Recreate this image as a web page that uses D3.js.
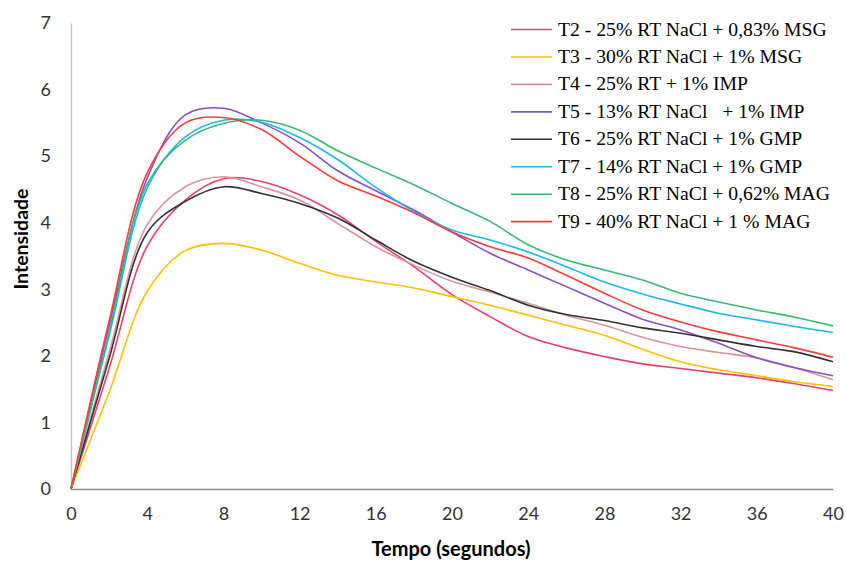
<!DOCTYPE html>
<html>
<head>
<meta charset="utf-8">
<script src="https://cdn.jsdelivr.net/npm/d3@7"></script>
<style>
html,body{margin:0;padding:0;background:#fff;}
svg{display:block;}
</style>
</head>
<body>
<svg id="chart" width="846" height="563"></svg>
<script>
const times = [0,2,4,6,8,10,12,14,16,18,20,22,24,26,28,30,32,34,36,38,40];
const xTicks = [0,4,8,12,16,20,24,28,32,36,40];
const yTicks = [0,1,2,3,4,5,6,7];

const seriesNames = [
  "T2 - 25% RT NaCl + 0,83% MSG",
  "T3 - 30% RT NaCl + 1% MSG",
  "T4 - 25% RT + 1% IMP",
  "T5 - 13% RT NaCl   + 1% IMP",
  "T6 - 25% RT NaCl + 1% GMP",
  "T7 - 14% RT NaCl + 1% GMP",
  "T8 - 25% RT NaCl + 0,62% MAG",
  "T9 - 40% RT NaCl + 1 % MAG"
];
const seriesColors = ["#E8416E","#FFC000","#D99694","#8A4FC0","#333333","#1CB8F0","#3DB873","#FF3B3B"];

const T2 = [0,1.81,3.65,4.34,4.66,4.62,4.42,4.12,3.72,3.34,2.92,2.59,2.29,2.12,1.99,1.88,1.81,1.74,1.67,1.58,1.48];
const T3 = [0,1.45,2.97,3.58,3.69,3.59,3.39,3.21,3.11,3.02,2.89,2.76,2.61,2.46,2.31,2.10,1.91,1.79,1.70,1.61,1.54];
const T4 = [0,2.05,3.97,4.54,4.69,4.54,4.34,3.99,3.64,3.36,3.12,2.96,2.79,2.61,2.46,2.28,2.14,2.05,1.97,1.82,1.64];
const T5 = [0,2.45,4.67,5.62,5.72,5.50,5.20,4.78,4.48,4.19,3.86,3.54,3.29,3.04,2.79,2.55,2.39,2.19,1.97,1.82,1.70];
const T6 = [0,1.96,3.85,4.32,4.54,4.44,4.29,4.07,3.74,3.42,3.18,2.98,2.76,2.62,2.53,2.42,2.34,2.24,2.14,2.06,1.91];
const T7 = [0,2.30,4.52,5.29,5.54,5.51,5.28,4.95,4.53,4.17,3.89,3.74,3.56,3.34,3.11,2.93,2.78,2.64,2.54,2.44,2.35];
const T8 = [0,2.35,4.58,5.24,5.49,5.54,5.39,5.08,4.82,4.57,4.29,4.02,3.67,3.44,3.29,3.14,2.94,2.81,2.69,2.58,2.45];
const T9 = [0,2.52,4.75,5.50,5.58,5.40,5.00,4.63,4.40,4.15,3.86,3.64,3.47,3.21,2.94,2.69,2.51,2.36,2.24,2.12,1.98];

const seriesValues = [T2,T3,T4,T5,T6,T7,T8,T9];

const svg = d3.select("#chart");
const x = d3.scaleLinear().domain([0,40]).range([71,833]);
const y = d3.scaleLinear().domain([0,7]).range([489,23]);

const tickFont = "Lato, 'Open Sans', sans-serif";

// y axis
const yAxis = svg.append("g").attr("transform","translate(71,0)")
  .call(d3.axisLeft(y).tickValues(yTicks).tickSize(0).tickPadding(20).tickFormat(d3.format("d")));
yAxis.select(".domain").attr("stroke","#BFBFBF").attr("stroke-width",1.3);
yAxis.selectAll("text").attr("font-family",tickFont).attr("font-size",18).attr("fill","#333");

// x axis
const xAxis = svg.append("g").attr("transform","translate(0,489)")
  .call(d3.axisBottom(x).tickValues(xTicks).tickSize(0).tickPadding(18).tickFormat(d3.format("d")));
xAxis.select(".domain").attr("stroke","#8C8C8C").attr("stroke-width",1.3);
xAxis.selectAll("text").attr("font-family",tickFont).attr("font-size",18).attr("fill","#333");

// lines
const line = d3.line()
  .x((d,i)=>x(times[i]))
  .y(d=>y(d))
  .curve(d3.curveCatmullRom.alpha(0.5));

svg.append("g").selectAll("path")
  .data(seriesValues)
  .join("path")
  .attr("d",d=>line(d))
  .attr("fill","none")
  .attr("stroke",(d,i)=>seriesColors[i])
  .attr("stroke-width",1.6);

// axis titles
svg.append("text")
  .attr("x",451).attr("y",556)
  .attr("text-anchor","middle")
  .attr("font-family",tickFont).attr("font-weight","bold").attr("font-size",20)
  .attr("fill","#000")
  .text("Tempo (segundos)");

svg.append("text")
  .attr("transform","translate(28,239) rotate(-90)")
  .attr("text-anchor","middle")
  .attr("font-family",tickFont).attr("font-weight","bold").attr("font-size",19.5)
  .attr("fill","#000")
  .text("Intensidade");

// legend
const legend = svg.append("g");
const legY0 = 29.5, legDY = 27.45;
seriesNames.forEach((name,i)=>{
  const yy = legY0 + i*legDY;
  legend.append("line")
    .attr("x1",511).attr("x2",552).attr("y1",yy).attr("y2",yy)
    .attr("stroke",seriesColors[i]).attr("stroke-width",1.6);
  legend.append("text")
    .attr("x",558).attr("y",yy+6)
    .attr("font-family","'Liberation Serif', 'Times New Roman', serif")
    .attr("font-size",19.7)
    .attr("fill","#000")
    .style("white-space","pre")
    .attr("xml:space","preserve")
    .text(name);
});
</script>
</body>
</html>
